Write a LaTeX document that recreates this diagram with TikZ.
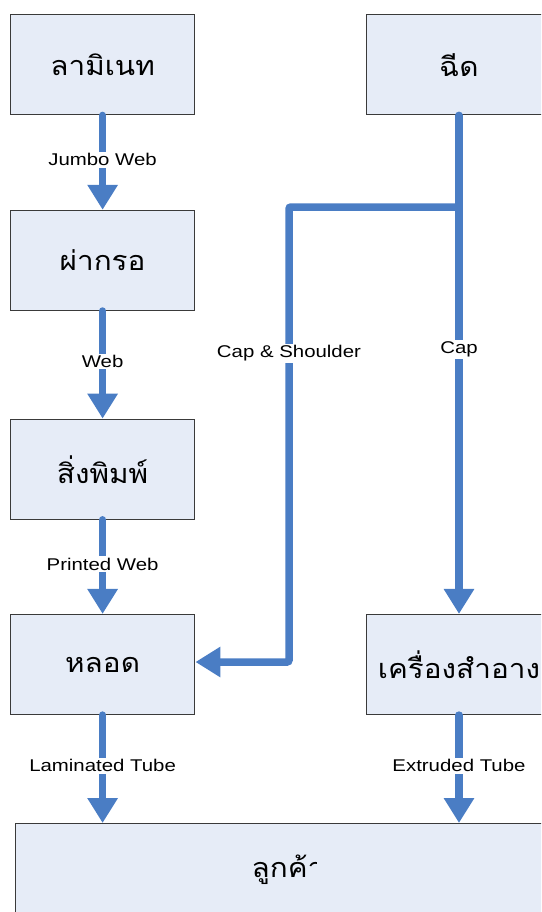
\documentclass[tikz,border=0pt]{standalone}
\usepackage{fontspec}
\usetikzlibrary{arrows.meta}
\newfontfamily\thaifont[Script=Thai,FakeStretch=1.1]{Loma}
\newfontfamily\lblfont[FakeStretch=1.2]{Liberation Sans}
\definecolor{flowblue}{HTML}{4A7DC4}
\definecolor{boxfill}{HTML}{E6ECF7}
\definecolor{boxline}{HTML}{3A3A3A}

\begin{document}
\begin{tikzpicture}[x=1pt,y=-1pt,
  stage/.style={draw=boxline, line width=1.2pt, fill=boxfill,
    minimum width=184.5pt, minimum height=100pt, inner sep=0pt,
    font=\thaifont\fontsize{27}{30}\selectfont},
  thaitext/.style={inner sep=0pt, font=\thaifont\fontsize{27}{30}\selectfont},
  flow/.style={draw=flowblue, line width=7.5pt, line cap=round,
    -{Triangle[length=25pt,width=29pt]}},
  tag/.style={fill=white, inner sep=1.5pt,
    font=\lblfont\fontsize{17}{20}\selectfont}
]
\clip (0,0) rectangle (541,912);

% process boxes
\node[stage] (lam)   at (102.6,64.8)  {ลามิเนท};
\node[stage] (inj)   at (459,64.8)    {ฉีด};
\node[stage] (slit)  at (102.6,260.4) {ผ่ากรอ};
\node[stage] (print) at (102.6,469.2) {สิ่งพิมพ์};
\node[stage] (tube)  at (102.6,664.5) {หลอด};
\node[stage] (cos)   at (459,664.5)   {เครื่องสำอาง};
\node[stage, minimum width=548pt, minimum height=110pt, anchor=north west]
  (cust) at (14.5,823) {};
\begin{scope}
  \clip (14.5,823) rectangle (316,912);
  \node[thaitext] (custtext) at (288,870) {ลูกค้า};
\end{scope}

% laminated tube line
\draw[flow] (lam)   -- node[tag, pos=0.47] (l1) {Jumbo Web} (slit);
\draw[flow] (slit)  -- node[tag, pos=0.47] (l2) {Web} (print);
\draw[flow] (print) -- node[tag, pos=0.47] (l3) {Printed Web} (tube);
\draw[flow] (tube)  -- node[tag, pos=0.47] (l4) {Laminated Tube} (tube.south |- cust.north);

% extruded tube line
\draw[flow] (inj) -- node[tag, pos=0.47] (l5) {Cap} (cos);
\draw[flow] (cos) -- node[tag, pos=0.47] (l6) {Extruded Tube} (cos.south |- cust.north);

% cap & shoulder branch to the laminated tubes
\coordinate (jn) at (459,207);
\coordinate (bend) at (289,662);
\draw[flow, rounded corners=2pt] (jn) -| (bend) -- (tube.east |- bend);
\node[tag] (l7) at (289,353.5) {Cap \& Shoulder};
\end{tikzpicture}
\end{document}
